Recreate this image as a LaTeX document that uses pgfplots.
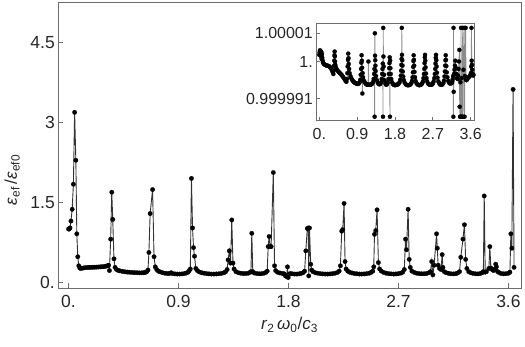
\documentclass[border=0pt]{standalone}
\usepackage{fontspec}
\setmainfont{Liberation Sans}
\usepackage{pgfplots}
\usepackage{pgfplotstable}
\pgfplotsset{compat=1.18}
\definecolor{framegray}{RGB}{110,110,110}

% main curve: eps_ef / eps_ef0 against r2 w0 / c3
\pgfplotstableread{
x y
0.000 1.00
0.006 1.00
0.012 1.02
0.020 1.15
0.030 1.37
0.040 1.84
0.050 3.19
0.060 2.29
0.068 0.91
0.076 0.48
0.084 0.31
0.092 0.27
0.100 0.26
0.110 0.265
0.125 0.27
0.140 0.275
0.155 0.278
0.170 0.28
0.185 0.28
0.200 0.282
0.215 0.284
0.230 0.285
0.245 0.287
0.260 0.29
0.275 0.292
0.290 0.295
0.305 0.30
0.318 0.31
0.328 0.32
0.335 0.22
0.345 0.81
0.354 1.69
0.362 1.18
0.372 0.44
0.381 0.28
0.392 0.24
0.405 0.225
0.420 0.215
0.440 0.205
0.460 0.198
0.480 0.192
0.500 0.188
0.520 0.185
0.540 0.182
0.560 0.18
0.580 0.178
0.600 0.178
0.615 0.18
0.628 0.185
0.640 0.20
0.650 0.23
0.658 0.56
0.668 1.29
0.688 1.74
0.700 0.48
0.710 0.29
0.722 0.24
0.735 0.21
0.750 0.195
0.770 0.18
0.790 0.17
0.810 0.165
0.825 0.165
0.840 0.18
0.850 0.165
0.870 0.158
0.890 0.155
0.910 0.155
0.930 0.158
0.950 0.165
0.965 0.175
0.978 0.19
0.988 0.22
0.997 0.25
1.006 1.95
1.015 1.02
1.023 0.65
1.031 0.49
1.042 0.26
1.055 0.22
1.070 0.195
1.090 0.18
1.110 0.17
1.130 0.163
1.150 0.158
1.170 0.155
1.190 0.155
1.210 0.157
1.230 0.16
1.250 0.167
1.270 0.178
1.285 0.195
1.298 0.24
1.306 0.42
1.316 0.59
1.326 0.36
1.336 1.17
1.346 0.36
1.355 0.25
1.370 0.20
1.390 0.18
1.410 0.17
1.430 0.165
1.450 0.165
1.470 0.17
1.485 0.185
1.493 0.20
1.500 0.92
1.508 0.20
1.520 0.175
1.540 0.165
1.560 0.16
1.580 0.162
1.600 0.17
1.615 0.185
1.626 0.21
1.634 0.67
1.642 0.86
1.650 0.67
1.658 0.67
1.676 2.06
1.686 0.31
1.695 0.22
1.710 0.19
1.730 0.175
1.750 0.165
1.765 0.16
1.775 0.12
1.785 0.11
1.792 0.29
1.798 0.09
1.805 0.15
1.815 0.165
1.830 0.16
1.850 0.155
1.870 0.155
1.890 0.16
1.905 0.168
1.920 0.18
1.932 0.21
1.942 0.59
1.954 1.01
1.962 1.02
1.966 0.12
1.972 1.02
1.982 0.34
1.990 0.23
2.000 0.20
2.020 0.18
2.040 0.17
2.060 0.163
2.080 0.158
2.100 0.155
2.120 0.155
2.140 0.157
2.160 0.162
2.180 0.17
2.200 0.185
2.215 0.21
2.225 0.31
2.236 0.96
2.244 0.99
2.255 1.48
2.263 0.39
2.272 0.25
2.285 0.21
2.300 0.19
2.320 0.175
2.340 0.165
2.360 0.16
2.380 0.155
2.400 0.155
2.420 0.157
2.440 0.162
2.460 0.17
2.475 0.185
2.490 0.21
2.498 0.29
2.504 0.90
2.514 0.97
2.525 1.36
2.536 0.37
2.546 0.25
2.560 0.21
2.580 0.185
2.600 0.17
2.620 0.163
2.640 0.158
2.660 0.155
2.680 0.157
2.700 0.162
2.720 0.172
2.735 0.19
2.748 0.24
2.758 0.81
2.766 0.61
2.779 1.37
2.788 0.43
2.797 0.28
2.810 0.21
2.830 0.185
2.850 0.17
2.870 0.163
2.890 0.16
2.910 0.16
2.930 0.165
2.950 0.18
2.962 0.20
2.972 0.39
2.982 0.14
2.992 0.32
3.012 0.91
3.018 0.64
3.025 0.32
3.036 0.26
3.048 0.24
3.058 0.52
3.064 0.28
3.075 0.20
3.090 0.18
3.110 0.168
3.130 0.16
3.150 0.158
3.170 0.162
3.185 0.175
3.200 0.20
3.210 0.47
3.228 0.81
3.240 1.08
3.250 0.43
3.260 0.26
3.275 0.20
3.290 0.18
3.310 0.168
3.330 0.16
3.350 0.158
3.370 0.165
3.385 0.18
3.395 0.20
3.402 1.62
3.410 0.19
3.420 0.20
3.440 0.26
3.448 0.67
3.456 0.27
3.466 0.24
3.478 0.22
3.490 0.25
3.496 0.34
3.502 0.29
3.512 0.20
3.525 0.18
3.540 0.165
3.560 0.16
3.580 0.162
3.600 0.17
3.612 0.19
3.620 0.91
3.628 0.64
3.638 3.62
3.646 0.28
}\maindata

% inset: (eps - 1) in units of 1e-6
\pgfplotstableread{
x y
0.000 1.6
0.008 2.2
0.016 2.7
0.024 2.4
0.032 1.8
0.040 1.2
0.046 2.4
0.052 1.5
0.058 0.6
0.064 1.8
0.070 0.9
0.078 0.3
0.088 -0.2
0.100 -0.5
0.120 -0.7
0.140 -0.8
0.160 -0.9
0.180 -1.0
0.200 -1.0
0.220 -1.1
0.240 -1.2
0.260 -1.4
0.280 -1.7
0.300 -2.1
0.320 -2.6
0.335 -3.0
0.345 -2.2
0.352 -1.0
0.357 0.2
0.362 1.5
0.366 2.4
0.370 1.2
0.374 0.0
0.380 -0.8
0.390 -1.3
0.410 -1.8
0.430 -2.1
0.450 -2.4
0.470 -2.6
0.490 -2.8
0.510 -3.0
0.530 -3.2
0.550 -3.5
0.570 -3.8
0.590 -4.1
0.610 -4.4
0.630 -4.7
0.645 -4.9
0.660 -4.2
0.668 -2.8
0.675 -1.2
0.682 0.4
0.688 1.9
0.694 0.8
0.700 -0.6
0.708 -1.8
0.720 -2.8
0.740 -3.5
0.760 -4.0
0.780 -4.4
0.800 -4.7
0.820 -4.9
0.840 -5.1
0.860 -5.2
0.880 -5.3
0.900 -5.4
0.920 -5.4
0.940 -5.3
0.960 -5.0
0.975 -4.4
0.985 -3.2
0.994 -1.8
1.000 -0.3
1.006 1.5
1.012 0.2
1.018 -1.5
1.024 -7.7
1.030 -2.8
1.040 -3.8
1.060 -4.6
1.080 -5.0
1.100 -5.3
1.120 -5.5
1.140 -5.6
1.160 -5.6
1.168 0.0
1.176 -5.6
1.200 -5.6
1.220 -5.6
1.240 -5.5
1.260 -5.3
1.280 -4.9
1.295 -4.2
1.305 -3.0
1.312 -1.8
1.316 -13.3
1.322 6.8
1.326 1.4
1.330 0.3
1.334 -1.0
1.340 -2.3
1.350 -3.5
1.370 -4.5
1.390 -5.1
1.410 -5.4
1.430 -5.5
1.450 -5.4
1.470 -5.0
1.485 -4.2
1.495 -3.0
1.503 -1.8
1.510 -0.5
1.515 -13.3
1.520 8.1
1.525 1.2
1.530 -1.2
1.538 -3.2
1.550 -4.5
1.570 -5.3
1.590 -5.6
1.610 -5.5
1.630 -5.0
1.645 -4.2
1.655 -3.0
1.662 -1.6
1.668 -0.4
1.674 1.0
1.680 -13.3
1.684 0.2
1.690 -1.6
1.698 -3.0
1.710 -4.2
1.730 -5.0
1.750 -5.4
1.770 -5.6
1.790 -5.7
1.810 -5.7
1.830 -5.6
1.850 -5.6
1.870 -5.5
1.890 -5.3
1.910 -5.0
1.925 -4.4
1.938 -3.4
1.946 -2.2
1.952 -0.8
1.958 0.6
1.962 8.1
1.966 1.6
1.972 0.3
1.978 -1.0
1.985 -2.4
1.995 -3.6
2.010 -4.5
2.030 -5.1
2.050 -5.4
2.070 -5.6
2.090 -5.7
2.110 -5.7
2.130 -5.7
2.150 -5.6
2.170 -5.5
2.190 -5.2
2.205 -4.7
2.218 -3.8
2.226 -2.6
2.232 -1.3
2.238 0.1
2.244 1.5
2.250 0.4
2.256 -1.0
2.264 -2.5
2.275 -3.8
2.290 -4.7
2.310 -5.2
2.330 -5.5
2.350 -5.6
2.370 -5.7
2.390 -5.7
2.410 -5.6
2.430 -5.5
2.450 -5.2
2.465 -4.8
2.478 -4.0
2.490 -3.0
2.497 -1.8
2.503 -0.4
2.509 1.0
2.514 1.6
2.520 0.2
2.527 -1.4
2.536 -2.9
2.548 -4.0
2.565 -4.8
2.585 -5.3
2.605 -5.5
2.625 -5.6
2.645 -5.6
2.665 -5.6
2.685 -5.5
2.705 -5.2
2.720 -4.8
2.735 -4.0
2.748 -3.0
2.756 -1.8
2.763 -0.5
2.770 0.9
2.776 1.6
2.782 0.3
2.790 -1.2
2.798 -2.7
2.810 -3.9
2.830 -4.8
2.850 -5.2
2.870 -5.5
2.890 -5.6
2.910 -5.6
2.930 -5.5
2.950 -5.2
2.965 -4.6
2.978 -3.6
2.986 -2.4
2.994 -1.0
3.000 0.3
3.006 1.5
3.012 0.4
3.020 -1.1
3.030 -2.6
3.045 -3.8
3.065 -4.7
3.085 -5.1
3.105 -5.3
3.125 -5.3
3.145 -5.2
3.160 -4.9
3.172 -4.3
3.182 -3.5
3.188 -13.3
3.192 8.1
3.196 -7.3
3.205 -3.0
3.215 -2.0
3.225 -1.0
3.235 0.2
3.245 -1.5
3.258 -3.0
3.272 -4.0
3.288 -4.2
3.300 -3.4
3.312 -1.8
3.322 0.0
3.330 2.8
3.338 -10.9
3.346 -13.3
3.354 -5.0
3.362 -13.3
3.370 8.1
3.378 -13.3
3.386 -4.0
3.394 -13.3
3.410 8.1
3.418 -13.3
3.428 -2.0
3.446 8.1
3.454 -13.3
3.462 -3.5
3.480 8.1
3.488 -4.4
3.500 -4.5
3.515 -4.3
3.530 -4.0
3.550 -3.8
3.570 -3.6
3.590 -3.3
3.604 -2.8
3.612 -1.2
3.618 8.1
3.624 0.2
3.630 -0.8
3.636 -2.0
3.644 -3.0
3.655 -3.4
3.665 -3.2
}\insetdata

\begin{document}
\begin{tikzpicture}
\useasboundingbox (-58pt,-58pt) rectangle (467pt,288pt);
\pgfplotsset{
  mmaframe/.style={
    scale only axis,
    axis line style={framegray, line width=0.8pt},
    tick style={framegray, line width=0.8pt},
    tick align=inside,
    major tick length=5pt,
    xtick pos=bottom, ytick pos=left,
    minor tick num=0,
  }
}
\begin{axis}[
  mmaframe,
  at={(0pt,0pt)}, anchor=south west,
  width=463pt, height=286pt,
  xmin=-0.086, xmax=3.703,
  ymin=-0.107, ymax=5.26,
  xtick={0,0.9,1.8,2.7,3.6},
  xticklabels={0.,0.9,1.8,2.7,3.6},
  ytick={0,1.5,3,4.5},
  yticklabels={0.,1.5,3,4.5},
  xticklabel style={font=\fontsize{17.5}{19}\selectfont, inner sep=0pt, yshift=-7pt, text=black!85},
  yticklabel style={font=\fontsize{17.5}{19}\selectfont, inner sep=0pt, xshift=-3pt, text=black!85},
  xlabel={\textit{r}\textsubscript{2}\,\textit{ω}\textsubscript{0}/\textit{c}\textsubscript{3}},
  ylabel={\textit{ε}\textsubscript{ef}\,/\textit{ε}\textsubscript{ef0}},
  every axis x label/.style={at={(axis description cs:0.5,-0.129)}, anchor=center, font=\fontsize{17}{19}\selectfont, text=black!85},
  every axis y label/.style={at={(axis description cs:-0.099,0.378)}, anchor=center, rotate=90, font=\fontsize{17}{19}\selectfont, text=black!85},
]
\addplot[black!80, line width=0.9pt, mark=*, mark size=2.25pt,
  mark options={fill=black, draw=black, line width=0.2pt}] table[x=x, y=y] {\maindata};
\end{axis}

\begin{axis}[
  mmaframe,
  at={(258pt,167.3pt)}, anchor=south west,
  width=158.7pt, height=97.4pt,
  xmin=-0.078, xmax=3.695,
  ymin=-14.26, ymax=9.2,
  xtick={0,0.9,1.8,2.7,3.6},
  xticklabels={0.,0.9,1.8,2.7,3.6},
  ytick={-9,0,6.84},
  yticklabels={0.999991,1.,1.00001},
  major tick length=3.5pt,
  xticklabel style={font=\fontsize{16}{18}\selectfont, inner sep=0pt, yshift=-7pt, text=black!85},
  yticklabel style={font=\fontsize{16}{18}\selectfont, inner sep=0pt, xshift=-3pt, text=black!85},
  axis background/.style={fill=white},
]
\addplot[black!45, line width=0.8pt, mark=*, mark size=2.1pt,
  mark options={fill=black, draw=black, line width=0.2pt}] table[x=x, y=y] {\insetdata};
\end{axis}
\end{tikzpicture}
\end{document}
